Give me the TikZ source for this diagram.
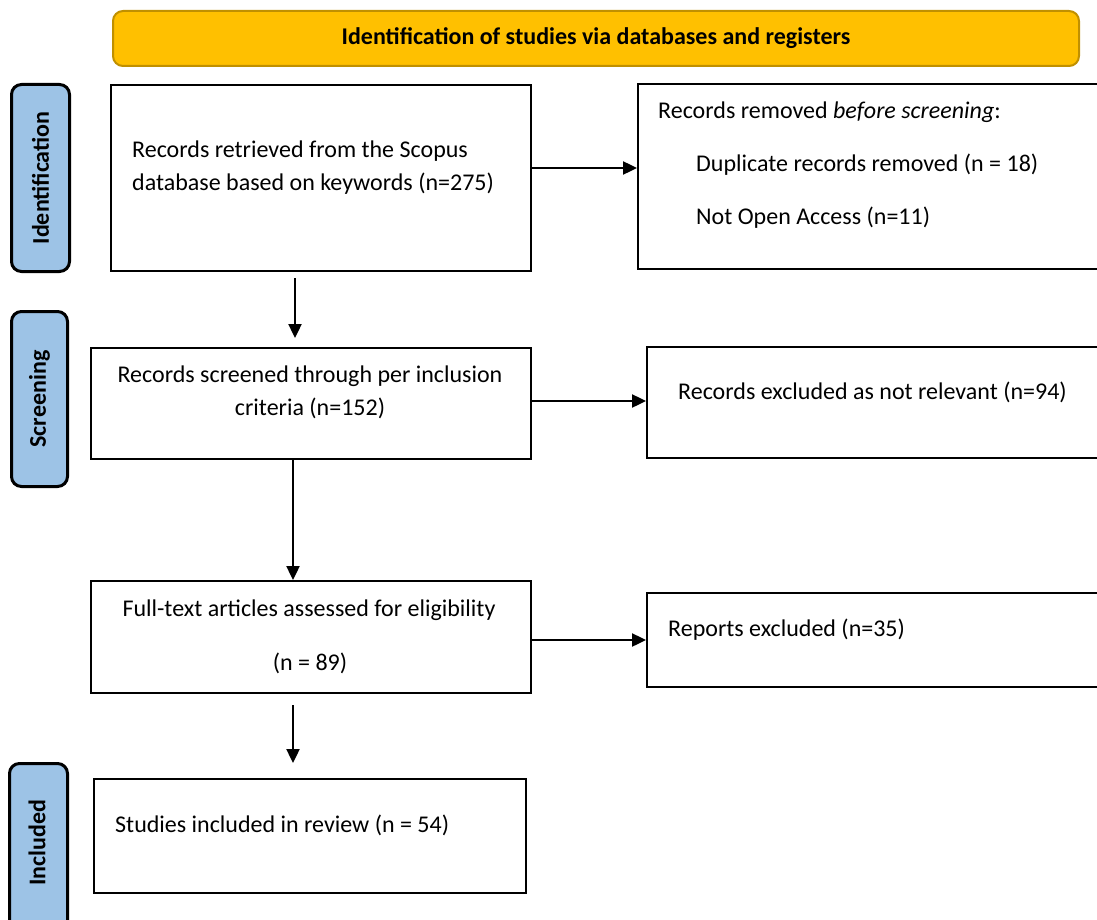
\documentclass[tikz,border=0pt]{standalone}
\usepackage{fontspec}
\setmainfont{Carlito}
\usetikzlibrary{arrows.meta}
\definecolor{bannerfill}{HTML}{FFC000}
\definecolor{bannerdraw}{HTML}{C09000}
\definecolor{sidefill}{HTML}{9DC3E6}
\tikzset{
  box/.style={draw=black, line width=2.2pt, rectangle, inner sep=0pt, anchor=north west},
  side/.style={draw=black, line width=3pt, fill=sidefill, rounded corners=10pt, inner sep=0pt, anchor=north west},
  sidetxt/.style={rotate=90, font=\fontsize{24}{28}\selectfont\bfseries, inner sep=0pt},
  txt/.style={font=\fontsize{24}{33}\selectfont, inner sep=0pt},
  arr/.style={line width=2.4pt, -{Triangle[length=14pt,width=13pt]}},
}
\begin{document}
\begin{tikzpicture}[x=1pt,y=-1pt]
\useasboundingbox (0,0) rectangle (1097,920);
% banner
\node[draw=bannerdraw, line width=2pt, fill=bannerfill, rounded corners=10pt, anchor=north west, minimum width=966pt, minimum height=55pt, inner sep=0pt] (banner) at (112,10) {};
\node[font=\fontsize{24}{28}\selectfont\bfseries, inner sep=0pt] (bannertxt) at (596,38) {Identification of studies via databases and registers};
% side labels
\node[side, minimum width=58pt, minimum height=187pt] (sid) at (10,83) {};
\node[sidetxt] (sidtxt) at (sid.center) {Identification};
\node[side, minimum width=56pt, minimum height=175pt] (sscr) at (10,310) {};
\node[sidetxt] (sscrtxt) at (sscr.center) {Screening};
\node[side, minimum width=58pt, minimum height=170pt] (sinc) at (8,762) {};
\node[sidetxt] (sinctxt) at (37,843) {Included};
% boxes
\node[box, minimum width=420pt, minimum height=186pt] (b1) at (110,84) {};
\node[txt, anchor=west, align=left] (b1t) at (132,168) {Records retrieved from the Scopus\\database based on keywords (n=275)};
\node[box, minimum width=470pt, minimum height=185pt] (b2) at (637,83) {};
\node[txt, anchor=west] (b2a) at (658,112) {Records removed \emph{before screening}:};
\node[txt, anchor=west] (b2b) at (696,165) {Duplicate records removed (n = 18)};
\node[txt, anchor=west] (b2c) at (696,218) {Not Open Access (n=11)};
\node[box, minimum width=440pt, minimum height=111pt] (b3) at (90,347) {};
\node[txt, align=center] (b3t) at (310,392) {Records screened through per inclusion\\criteria (n=152)};
\node[box, minimum width=460pt, minimum height=111pt] (b4) at (646,346) {};
\node[txt, anchor=west] (b4t) at (678,392) {Records excluded as not relevant (n=94)};
\node[box, minimum width=440pt, minimum height=112pt] (b5) at (90,580) {};
\node[txt] (b5a) at (309,610) {Full-text articles assessed for eligibility};
\node[txt] (b5b) at (310,663) {(n = 89)};
\node[box, minimum width=460pt, minimum height=94pt] (b6) at (646,592) {};
\node[txt, anchor=west] (b6t) at (668,630) {Reports excluded (n=35)};
\node[box, minimum width=432pt, minimum height=114pt] (b7) at (93,778) {};
\node[txt, anchor=west] (b7t) at (115,825) {Studies included in review (n = 54)};
% connectors
\draw[arr] (b1.east |- 0,168) -- (b2.west |- 0,168);
\draw[arr] (b3.east |- 0,401) -- (b4.west |- 0,401);
\draw[arr] (b5.east |- 0,640) -- (b6.west |- 0,640);
\draw[arr, shorten <=8pt, shorten >=9pt] (295,270) -- (295,347);
\draw[arr] (b3.south -| 293,0) -- (b5.north -| 293,0);
\draw[arr, shorten <=13pt, shorten >=15pt] (293,692) -- (293,778);
\end{tikzpicture}
\end{document}
